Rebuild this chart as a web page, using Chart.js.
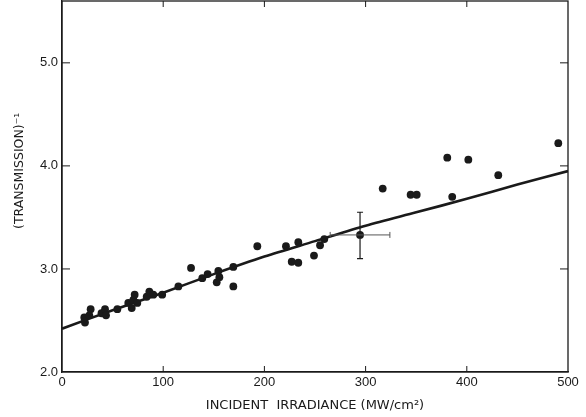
<!DOCTYPE html>
<html>
<head>
<meta charset="utf-8">
<script src="https://cdn.jsdelivr.net/npm/chart.js@4/dist/chart.umd.min.js"></script>
<style>
  html, body { margin: 0; padding: 0; background: #fff; }
  canvas { display: block; }
</style>
</head>
<body>
<canvas id="chart" width="586" height="417"></canvas>
<script>
// measured points
const irradiance = [22.7, 22, 28.3, 27, 39, 42.5, 43.5, 54.7, 65.5, 68.9, 70.5, 71.8, 74.4, 83.7, 86.3, 90.2, 99,
    115, 127.5, 138.6, 143.9, 152.9, 154.5, 155.5, 169.3, 169.3, 193, 221.3, 227, 233.5, 233.5, 249, 255, 259.2,
    294.5, 316.9, 344.5, 350.5, 380.7, 385.6, 401.5, 431.1, 490.4];
const invTransmission = [2.48, 2.53, 2.61, 2.55, 2.57, 2.61, 2.55, 2.61, 2.67, 2.62, 2.70, 2.75, 2.67, 2.73, 2.78, 2.75, 2.75,
    2.83, 3.01, 2.91, 2.95, 2.87, 2.98, 2.92, 3.02, 2.83, 3.22, 3.22, 3.07, 3.26, 3.06, 3.13, 3.23, 3.29,
    3.33, 3.78, 3.72, 3.72, 4.08, 3.70, 4.06, 3.91, 4.22];

// theory curve
const fitX = [0, 50, 100, 150, 200, 250, 300, 350, 400, 450, 500];
const fitY = [2.42, 2.60, 2.77, 2.95, 3.12, 3.27, 3.42, 3.55, 3.68, 3.82, 3.95];

// error bar on one point
const errPoint = [294.5, 3.33];
const errXRange = [265, 324];
const errYRange = [3.10, 3.55];

// tick marks
const xTickValues = [100, 200, 300, 400];
const yTickValues = [3.0, 4.0, 5.0];

const ink = '#1a1a1a';

const frame = {
    id: 'frame',
    afterDatasetsDraw(chart) {
        const { ctx, chartArea: a, scales: { x, y } } = chart;
        ctx.save();
        ctx.strokeStyle = ink;
        ctx.lineWidth = 1.3;
        ctx.strokeRect(a.left, a.top, a.right - a.left, a.bottom - a.top);

        ctx.lineWidth = 1;
        ctx.beginPath();
        xTickValues.forEach((v) => {
            const px = x.getPixelForValue(v);
            ctx.moveTo(px, a.bottom); ctx.lineTo(px, a.bottom - 6);
            ctx.moveTo(px, a.top); ctx.lineTo(px, a.top + 6);
        });
        yTickValues.forEach((v) => {
            const py = y.getPixelForValue(v);
            ctx.moveTo(a.left, py); ctx.lineTo(a.left + 8, py);
            ctx.moveTo(a.right, py); ctx.lineTo(a.right - 8, py);
        });
        ctx.stroke();

        // error bars
        const cx = x.getPixelForValue(errPoint[0]);
        const cy = y.getPixelForValue(errPoint[1]);
        const x0 = x.getPixelForValue(errXRange[0]);
        const x1 = x.getPixelForValue(errXRange[1]);
        const y0 = y.getPixelForValue(errYRange[0]);
        const y1 = y.getPixelForValue(errYRange[1]);
        ctx.lineWidth = 1.2;
        ctx.beginPath();
        ctx.moveTo(cx, y0); ctx.lineTo(cx, y1);
        ctx.moveTo(cx - 3, y0); ctx.lineTo(cx + 3, y0);
        ctx.moveTo(cx - 3, y1); ctx.lineTo(cx + 3, y1);
        ctx.stroke();
        ctx.strokeStyle = '#555';
        ctx.lineWidth = 1;
        ctx.beginPath();
        ctx.moveTo(x0, cy); ctx.lineTo(x1, cy);
        ctx.moveTo(x0, cy - 3); ctx.lineTo(x0, cy + 3);
        ctx.moveTo(x1, cy - 3); ctx.lineTo(x1, cy + 3);
        ctx.stroke();
        ctx.restore();
    }
};

new Chart(document.getElementById('chart'), {
    type: 'scatter',
    data: {
        datasets: [
            {
                label: 'measured',
                data: irradiance.map((v, i) => ({ x: v, y: invTransmission[i] })),
                backgroundColor: ink,
                borderColor: ink,
                pointRadius: 3.9,
                pointBorderWidth: 0
            },
            {
                label: 'theory',
                type: 'line',
                data: fitX.map((v, i) => ({ x: v, y: fitY[i] })),
                borderColor: ink,
                borderWidth: 2.6,
                pointRadius: 0,
                tension: 0.3,
                fill: false
            }
        ]
    },
    options: {
        responsive: false,
        animation: false,
        devicePixelRatio: 1,
        layout: { autoPadding: false, padding: { top: 1, right: 18, left: 0, bottom: 0 } },
        plugins: {
            legend: { display: false },
            tooltip: { enabled: false }
        },
        scales: {
            x: {
                type: 'linear',
                min: 0,
                max: 500,
                afterFit: (s) => { s.height = 45; },
                ticks: {
                    stepSize: 100,
                    color: ink,
                    padding: 3,
                    maxRotation: 0,
                    font: { family: 'Liberation Sans', size: 13 }
                },
                grid: { display: false, drawTicks: false },
                border: { display: true, color: ink, width: 1.3 },
                title: {
                    display: true,
                    text: 'INCIDENT  IRRADIANCE (MW/cm²)',
                    color: ink,
                    padding: { top: 0, bottom: 4 },
                    font: { family: 'DejaVu Sans', size: 13 }
                }
            },
            y: {
                type: 'linear',
                min: 2.0,
                max: 5.6,
                afterFit: (s) => { s.width = 62; s.paddingTop = 0; s.paddingBottom = 0; },
                ticks: {
                    stepSize: 1,
                    includeBounds: false,
                    color: ink,
                    padding: 4,
                    font: { family: 'Liberation Sans', size: 13 },
                    callback: (v) => v.toFixed(1)
                },
                grid: { display: false, drawTicks: false },
                border: { display: true, color: ink, width: 1.3 },
                title: {
                    display: true,
                    text: '\u2002\u2002\u2002\u2002\u2002(TRANSMISSION)⁻¹',
                    color: ink,
                    padding: { top: 12, bottom: 0 },
                    font: { family: 'DejaVu Sans', size: 12.5 }
                }
            }
        }
    },
    plugins: [frame]
});
</script>
</body>
</html>
